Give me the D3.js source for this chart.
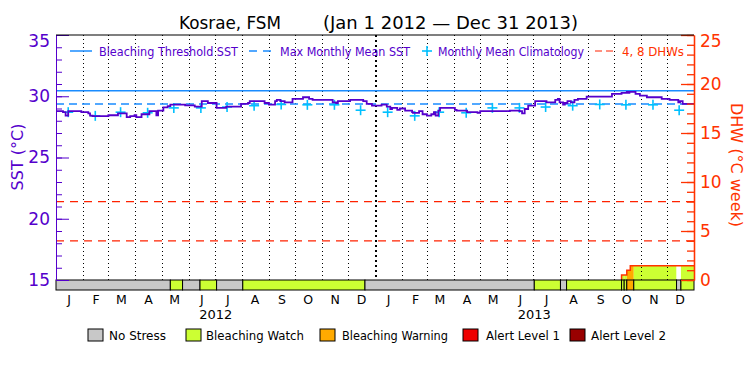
<!DOCTYPE html>
<html><head><meta charset="utf-8">
<script src="https://cdn.jsdelivr.net/npm/d3@7"></script>
<style>body{margin:0;background:#fff} svg text{font-family:"DejaVu Sans",sans-serif}</style>
</head><body><svg id="c" width="750" height="375"></svg>
<script>
// ---------------- data ----------------
const monthLabels = ["J","F","M","A","M","J","J","A","S","O","N","D"];
const yearLabels = ["2012","2013"];
const sstDates = ["2012-01-01","2012-01-09","2012-01-12","2012-01-15","2012-01-30","2012-02-07","2012-02-09","2012-02-12","2012-03-01","2012-03-12","2012-03-22","2012-03-26","2012-03-31","2012-04-02","2012-04-08","2012-04-17","2012-04-25","2012-04-27","2012-05-03","2012-05-08","2012-05-11","2012-05-28","2012-06-08","2012-06-16","2012-06-23","2012-07-03","2012-07-14","2012-07-31","2012-08-08","2012-08-10","2012-08-27","2012-09-01","2012-09-08","2012-09-10","2012-09-14","2012-09-19","2012-09-28","2012-10-10","2012-10-17","2012-10-21","2012-11-13","2012-11-17","2012-11-19","2012-12-03","2012-12-18","2012-12-22","2012-12-28","2013-01-08","2013-01-14","2013-01-18","2013-01-20","2013-01-26","2013-01-29","2013-02-04","2013-02-12","2013-02-13","2013-02-20","2013-02-24","2013-03-01","2013-03-06","2013-03-09","2013-03-11","2013-03-14","2013-03-16","2013-04-02","2013-04-04","2013-04-16","2013-04-28","2013-05-01","2013-06-04","2013-06-15","2013-06-18","2013-06-21","2013-06-25","2013-07-03","2013-07-16","2013-07-26","2013-07-29","2013-07-31","2013-08-04","2013-08-06","2013-08-09","2013-08-13","2013-08-17","2013-08-21","2013-08-31","2013-09-29","2013-10-10","2013-10-16","2013-10-18","2013-10-19","2013-10-26","2013-10-31","2013-11-08","2013-11-25","2013-12-04","2013-12-14","2013-12-16","2013-12-19","2014-01-01"];
const sstValues = [28.78,28.70,28.42,28.78,28.70,28.60,28.42,28.37,28.45,28.60,28.29,28.37,28.45,28.29,28.53,28.78,28.45,28.83,29.10,29.20,29.32,29.26,29.15,29.60,29.45,29.05,29.15,29.37,29.45,29.60,29.45,29.32,29.60,29.70,29.60,29.50,29.78,29.92,29.78,29.70,29.50,29.45,29.60,29.70,29.60,29.37,29.23,29.32,29.15,28.96,29.05,28.88,29.00,28.83,28.70,28.65,28.78,28.53,28.42,28.53,28.70,28.42,28.83,29.05,28.88,28.83,28.70,28.65,28.78,28.83,28.78,28.60,28.96,29.23,29.60,29.50,29.70,29.78,29.50,29.32,29.45,29.60,29.50,29.70,29.78,29.97,30.19,30.27,30.35,30.27,30.35,30.19,30.05,29.92,29.78,29.70,29.50,29.60,29.38,29.38];
const climValues = [28.70,28.40,28.70,28.65,29.05,29.05,29.12,29.23,29.33,29.30,29.30,28.86];
const mmmValue = 29.37;
const thresholdValue = 30.45;
const dhwLines = [4, 8];
const dhwDates = ["2013-10-10","2013-10-16","2013-10-20","2014-01-01"];
const dhwValues = [0.5, 1.0, 1.46, 1.46];
const stressStarts = ["2012-01-01","2012-05-11","2012-05-25","2012-06-14","2012-07-03","2012-08-02","2012-12-20","2013-07-02","2013-08-01","2013-08-08","2013-10-10","2013-10-13","2013-10-16","2013-10-24","2013-12-12","2013-12-17","2014-01-01"];
const stressLevels = [0,1,0,1,0,1,0,1,0,1,1,1,2,1,0,1];
const stressNames = ["No Stress","Bleaching Watch","Bleaching Warning","Alert Level 1","Alert Level 2"];
const stressColors = ["#c8c8c8","#ccff33","#ffaa00","#ee0000","#990000"];
const sstTicks = [15,20,25,30,35];
const dhwTicks = [0,5,10,15,20,25];

// ---------------- layout ----------------
const L = 56, R = 694, T = 35, B = 280, BB = 290;
const purple = "#5500cc", red = "#ff3300", blue = "#1a8cff", cyan = "#00c0ff";
const parse = d3.timeParse("%Y-%m-%d");
const svg = d3.select("#c");
svg.append("rect").attr("width",750).attr("height",375).attr("fill","#fff");

const x = d3.scaleTime().domain([parse("2012-01-01"), parse("2014-01-01")]).range([L, R]);
const y = d3.scaleLinear().domain([15, 35]).range([B, T]);
const yR = d3.scaleLinear().domain([0, 25]).range([B, T]);

// DHW area colored by stress level
const dhw = dhwDates.map((d,i)=>({d:parse(d), v:dhwValues[i]}));
const area = d3.area().curve(d3.curveStepAfter).x(p=>x(p.d)).y0(yR(0)).y1(p=>yR(p.v));
svg.append("clipPath").attr("id","dhwclip").append("path").attr("d", area(dhw));
const segs = stressLevels.map((lv,i)=>({a:parse(stressStarts[i]), b:parse(stressStarts[i+1]), lv}));
svg.append("g").attr("clip-path","url(#dhwclip)").selectAll("rect").data(segs).join("rect")
  .attr("x",s=>x(s.a)).attr("width",s=>x(s.b)-x(s.a)).attr("y",T).attr("height",B-T)
  .attr("fill",s=>s.lv===0?"#fff":stressColors[s.lv]);

// monthly dotted grid
const months = d3.timeMonth.range(parse("2012-02-01"), parse("2014-01-01"));
svg.append("g").attr("shape-rendering","crispEdges").selectAll("line").data(months).join("line")
  .attr("x1",d=>Math.round(x(d))+0.5).attr("x2",d=>Math.round(x(d))+0.5).attr("y1",T).attr("y2",B)
  .attr("stroke","#000")
  .attr("stroke-width",d=>d.getMonth()===0?2:1)
  .attr("stroke-dasharray",d=>d.getMonth()===0?"2,3":"1,3");

// DHW 4, 8 lines
svg.append("g").selectAll("line").data(dhwLines).join("line")
  .attr("x1",L).attr("x2",R).attr("y1",d=>yR(d)).attr("y2",d=>yR(d))
  .attr("stroke","#ff2200").attr("stroke-width",1.2).attr("stroke-dasharray","8,6");

// threshold & MMM
svg.append("line").attr("x1",L).attr("x2",R).attr("y1",y(thresholdValue)).attr("y2",y(thresholdValue))
  .attr("stroke",blue).attr("stroke-width",1.5);
svg.append("line").attr("x1",L).attr("x2",R).attr("y1",y(mmmValue)).attr("y2",y(mmmValue))
  .attr("stroke",blue).attr("stroke-width",1.5).attr("stroke-dasharray","8,5");

// climatology crosses
const allMonths = d3.timeMonth.range(parse("2012-01-01"), parse("2014-01-01"));
const clim = allMonths.map(m=>({d:new Date(m.getFullYear(), m.getMonth(), 15), v:climValues[m.getMonth()]}));
const cg = svg.append("g").attr("stroke",cyan).attr("stroke-width",1.6);
clim.forEach(c=>{
  const cx = x(c.d), cy = y(c.v);
  cg.append("line").attr("x1",cx-5).attr("x2",cx+5).attr("y1",cy).attr("y2",cy);
  cg.append("line").attr("x1",cx).attr("x2",cx).attr("y1",cy-5).attr("y2",cy+5);
});

// SST line
const sst = sstDates.map((d,i)=>({d:parse(d), v:sstValues[i]}));
svg.append("path").attr("d", d3.line().curve(d3.curveStepAfter).x(p=>x(p.d)).y(p=>y(p.v))(sst))
  .attr("fill","none").attr("stroke",purple).attr("stroke-width",1.8);

// DHW outline
const dhwLinePts = [{d:dhw[0].d, v:0}].concat(dhw);
svg.append("path").attr("d", d3.line().curve(d3.curveStepAfter).x(p=>x(p.d)).y(p=>yR(p.v))(dhwLinePts))
  .attr("fill","none").attr("stroke",red).attr("stroke-width",1.5);

// stress bar
svg.append("g").selectAll("rect").data(segs).join("rect")
  .attr("x",s=>x(s.a)).attr("width",s=>x(s.b)-x(s.a)).attr("y",B).attr("height",BB-B)
  .attr("fill",s=>stressColors[s.lv]).attr("stroke","#000").attr("stroke-width",1);

// axes
const gl = svg.append("g").attr("transform",`translate(${L},0)`);
gl.call(d3.axisLeft(y).tickValues(d3.range(15,36,1)).tickSizeInner(-6).tickSizeOuter(0).tickFormat(""));
gl.call(g=>g.append("g").call(d3.axisLeft(y).tickValues(sstTicks).tickSizeInner(-13).tickSizeOuter(0).tickPadding(6)));
gl.selectAll("path,line").attr("stroke",purple);
gl.selectAll("text").attr("fill",purple).attr("font-size",17).attr("font-family","DejaVu Sans");
gl.selectAll("text").filter(d=>d===35).attr("dy","0.65em");

const gr = svg.append("g").attr("transform",`translate(${R},0)`);
gr.call(d3.axisRight(yR).tickValues(d3.range(0,26,1)).tickSizeInner(-7).tickSizeOuter(0).tickFormat(""));
gr.call(g=>g.append("g").call(d3.axisRight(yR).tickValues(dhwTicks).tickSizeInner(-13).tickSizeOuter(0).tickPadding(6)));
gr.selectAll("path,line").attr("stroke",red).attr("stroke-width",1.3);
gr.selectAll("text").attr("fill",red).attr("font-size",17).attr("font-family","DejaVu Sans");
gr.selectAll("text").filter(d=>d===25).attr("dy","0.65em");

// top frame
svg.append("line").attr("x1",L).attr("x2",R).attr("y1",T).attr("y2",T).attr("stroke","#000").attr("stroke-width",1.2);

// month & year labels
svg.append("g").selectAll("text").data(allMonths).join("text")
  .attr("x",m=>x(new Date(m.getFullYear(), m.getMonth(), 16))).attr("y",304)
  .attr("text-anchor","middle").attr("font-size",12.5).text(m=>monthLabels[m.getMonth()]);
svg.append("g").selectAll("text").data(yearLabels).join("text")
  .attr("x",yl=>x(new Date(+yl,6,2))).attr("y",319)
  .attr("text-anchor","middle").attr("font-size",13).text(d=>d);

// axis titles
svg.append("text").attr("transform","translate(23,157) rotate(-90)").attr("text-anchor","middle")
  .attr("fill",purple).attr("font-size",16).text("SST (°C)");
svg.append("text").attr("transform","translate(731,165) rotate(90)").attr("text-anchor","middle")
  .attr("fill",red).attr("font-size",16).text("DHW (°C week)");

// title
svg.append("text").attr("x",179).attr("y",29).attr("font-size",18).attr("textLength",102).attr("lengthAdjust","spacingAndGlyphs").text("Kosrae, FSM");
svg.append("text").attr("x",323).attr("y",29).attr("font-size",18).attr("textLength",255).attr("lengthAdjust","spacingAndGlyphs").text("(Jan 1 2012 \u2014 Dec 31 2013)");

// top legend
const ly = 51;
svg.append("line").attr("x1",70).attr("x2",92).attr("y1",ly).attr("y2",ly).attr("stroke",blue).attr("stroke-width",1.5);
svg.append("line").attr("x1",249).attr("x2",273).attr("y1",ly).attr("y2",ly).attr("stroke",blue).attr("stroke-width",1.5).attr("stroke-dasharray","8,6");
svg.append("line").attr("x1",422).attr("x2",432).attr("y1",ly).attr("y2",ly).attr("stroke",cyan).attr("stroke-width",1.6);
svg.append("line").attr("x1",427).attr("x2",427).attr("y1",ly-5).attr("y2",ly+5).attr("stroke",cyan).attr("stroke-width",1.6);
svg.append("line").attr("x1",595).attr("x2",613).attr("y1",ly).attr("y2",ly).attr("stroke","#ff2200").attr("stroke-width",1.2).attr("stroke-dasharray","7,4");
const topLeg = [
  {t:"Bleaching Threshold SST", x:99, w:139, c:purple},
  {t:"Max Monthly Mean SST", x:280, w:130, c:purple},
  {t:"Monthly Mean Climatology", x:438, w:146, c:purple},
  {t:"4, 8 DHWs", x:622, w:62, c:red}];
svg.append("g").selectAll("text").data(topLeg).join("text")
  .attr("x",d=>d.x).attr("y",ly+4.5).attr("font-size",12).attr("fill",d=>d.c)
  .attr("textLength",d=>d.w).attr("lengthAdjust","spacingAndGlyphs").text(d=>d.t);

// bottom legend
const bLeg = [{bx:88,tx:109,w:57},{bx:186,tx:206,w:98},{bx:320,tx:342,w:106},{bx:463,tx:486,w:74},{bx:570,tx:591,w:75}];
const bl = svg.append("g");
bLeg.forEach((b,i)=>{
  bl.append("rect").attr("x",b.bx).attr("y",329).attr("width",15).attr("height",12)
    .attr("fill",stressColors[i]).attr("stroke","#000").attr("stroke-width",1);
  bl.append("text").attr("x",b.tx).attr("y",340).attr("font-size",12.5)
    .attr("textLength",b.w).attr("lengthAdjust","spacingAndGlyphs").text(stressNames[i]);
});
</script>
</body></html>
